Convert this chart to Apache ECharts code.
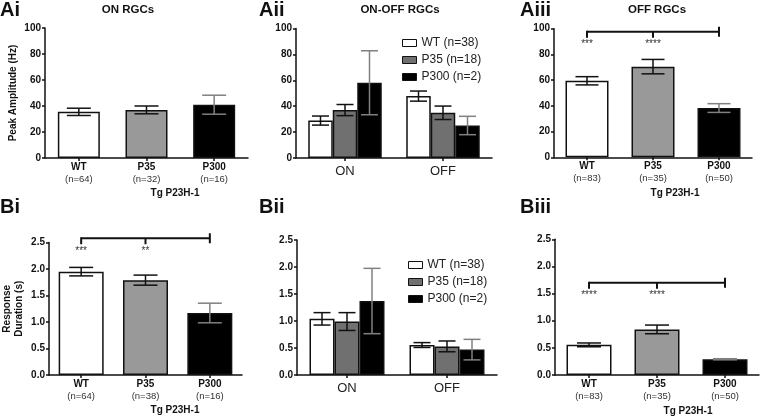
<!DOCTYPE html>
<html><head><meta charset="utf-8">
<script src="https://cdn.jsdelivr.net/npm/echarts@6/dist/echarts.min.js"></script>
<style>html,body{margin:0;padding:0;background:#fff}#c{width:760px;height:418px}</style>
</head><body><div id="c"></div>
<script>
// ---------- DATA ----------
const groups = ['WT', 'P35', 'P300'];
const legendNames = ['WT (n=38)', 'P35 (n=18)', 'P300 (n=2)'];
const onOffCats = ['ON', 'OFF'];
const yTicksA = [0, 20, 40, 60, 80, 100];
const yTicksB = [0, 0.5, 1.0, 1.5, 2.0, 2.5];

// Ai: ON RGCs, peak amplitude (Hz)
const aiN = ['(n=64)', '(n=32)', '(n=16)'];
const aiMean = [35.5, 37.0, 41.0];
const aiSem = [2.8, 3.0, 7.3];

// Aii: ON-OFF RGCs, peak amplitude (Hz), [ON, OFF]
const aiiWT = [28.9, 47.8];
const aiiWTSem = [3.5, 3.9];
const aiiP35 = [37.0, 34.9];
const aiiP35Sem = [4.3, 5.2];
const aiiP300 = [58.1, 25.1];
const aiiP300Sem = [24.7, 7.1];

// Aiii: OFF RGCs, peak amplitude (Hz)
const aiiiN = ['(n=83)', '(n=35)', '(n=50)'];
const aiiiMean = [59.5, 70.5, 38.3];
const aiiiSem = [3.2, 5.6, 3.4];
const aiiiBracketY = 97.7;
const aiiiStars = ['***', '****'];

// Bi: ON RGCs, response duration (s)
const biN = ['(n=64)', '(n=38)', '(n=16)'];
const biMean = [1.95, 1.79, 1.17];
const biSem = [0.08, 0.095, 0.185];
const biBracketY = 2.58;
const biStars = ['***', '**'];

// Bii: ON-OFF RGCs, response duration (s), [ON, OFF]
const biiWT = [1.04, 0.555];
const biiWTSem = [0.115, 0.045];
const biiP35 = [0.99, 0.53];
const biiP35Sem = [0.165, 0.1];
const biiP300 = [1.37, 0.47];
const biiP300Sem = [0.605, 0.19];

// Biii: OFF RGCs, response duration (s)
const biiiN = ['(n=83)', '(n=35)', '(n=50)'];
const biiiMean = [0.555, 0.84, 0.29];
const biiiSem = [0.035, 0.08, 0.01];
const biiiBracketY = 1.70;
const biiiStars = ['****', '****'];

// ---------- STYLE ----------
const FONT = 'Liberation Sans, Arial, Helvetica, sans-serif';
const INK = '#111';
const singleFills = ['#ffffff', '#999999', '#000000'];
const groupFills = ['#ffffff', '#707070', '#000000'];
const errColors = ['#111', '#111', '#808080'];

const grids = [
  {left: 45, top: 28, width: 203, height: 130},     // Ai
  {left: 296, top: 28.5, width: 196, height: 129.5},// Aii
  {left: 554, top: 28.7, width: 198, height: 128.6},// Aiii
  {left: 47, top: 242.5, width: 195, height: 132.5},// Bi
  {left: 297, top: 240, width: 200, height: 135},   // Bii
  {left: 555, top: 239.3, width: 204, height: 135.7}// Biii
];

const axisLineStyle = {color: INK, width: 1.5};

function yAxis(idx, ticks, name, isB) {
  return {
    type: 'value', gridIndex: idx,
    min: ticks[0], max: ticks[ticks.length - 1], interval: ticks[1] - ticks[0],
    axisLine: {show: true, lineStyle: axisLineStyle},
    axisTick: {show: true, length: 3, lineStyle: axisLineStyle},
    splitLine: {show: false},
    axisLabel: {
      fontFamily: FONT, fontWeight: 'bold', fontSize: 10, color: INK, margin: 4,
      formatter: v => isB ? v.toFixed(1) : String(v)
    },
    name: name || '', nameLocation: 'middle', nameRotate: 90, nameGap: isB ? 24 : 26,
    nameTextStyle: {fontFamily: FONT, fontWeight: 'bold', fontSize: 10, color: INK, lineHeight: 12}
  };
}

function xAxisSingle(idx, nLabels) {
  return {
    type: 'category', gridIndex: idx, data: groups,
    axisLine: {show: true, lineStyle: axisLineStyle},
    axisTick: {show: true, alignWithLabel: true, length: 3, lineStyle: axisLineStyle},
    axisLabel: {
      margin: 3, interval: 0,
      formatter: (v, i) => '{b|' + v + '}\n{n|' + nLabels[i] + '}',
      rich: {
        b: {fontFamily: FONT, fontWeight: 'bold', fontSize: 10, color: INK, lineHeight: 12},
        n: {fontFamily: FONT, fontSize: 9.5, color: '#333', lineHeight: 13}
      }
    }
  };
}

function xAxisGroup(idx) {
  return {
    type: 'category', gridIndex: idx, data: onOffCats,
    axisLine: {show: true, lineStyle: axisLineStyle},
    axisTick: {show: true, alignWithLabel: true, length: 3, lineStyle: axisLineStyle},
    axisLabel: {margin: 7, fontFamily: FONT, fontSize: 13, color: '#222'}
  };
}

function errRender(offset, capW, colorFn) {
  return function (params, api) {
    const k = api.value(0);
    const lo = api.coord([k, api.value(1)]);
    const hi = api.coord([k, api.value(2)]);
    const x = lo[0] + offset;
    const col = colorFn(params.dataIndex);
    const st = {stroke: col, lineWidth: 1.5, fill: null};
    return {
      type: 'group',
      children: [
        {type: 'line', shape: {x1: x, y1: lo[1], x2: x, y2: hi[1]}, style: st},
        {type: 'line', shape: {x1: x - capW / 2, y1: lo[1], x2: x + capW / 2, y2: lo[1]}, style: st},
        {type: 'line', shape: {x1: x - capW / 2, y1: hi[1], x2: x + capW / 2, y2: hi[1]}, style: st}
      ]
    };
  };
}

function bracketRender(stars) {
  return function (params, api) {
    const y = api.value(3);
    const a = api.coord([api.value(0), y]);
    const b = api.coord([api.value(1), y]);
    const c = api.coord([api.value(2), y]);
    const st = {stroke: INK, lineWidth: 2, fill: null};
    const tx = (x, s) => ({type: 'text', x: x, y: a[1] + 8,
      style: {text: s, align: 'center', verticalAlign: 'top', fontFamily: FONT, fontSize: 10, fill: '#333'}});
    return {
      type: 'group',
      children: [
        {type: 'line', shape: {x1: a[0], y1: a[1], x2: c[0], y2: c[1]}, style: st},
        {type: 'line', shape: {x1: a[0], y1: a[1] - 1, x2: a[0], y2: a[1] + 6}, style: st},
        {type: 'line', shape: {x1: b[0], y1: b[1], x2: b[0], y2: b[1] + 6}, style: st},
        {type: 'line', shape: {x1: c[0], y1: c[1] - 5, x2: c[0], y2: c[1] + 5}, style: st},
        tx(a[0], stars[0]), tx(b[0], stars[1])
      ]
    };
  };
}

const series = [];

function addSingle(idx, mean, sem, barW, capW, bracket, stars) {
  series.push({
    type: 'bar', xAxisIndex: idx, yAxisIndex: idx, barWidth: barW, silent: true,
    data: mean.map((v, k) => ({value: v, itemStyle: {color: singleFills[k]}})),
    itemStyle: {borderColor: INK, borderWidth: 1.5}
  });
  series.push({
    type: 'custom', xAxisIndex: idx, yAxisIndex: idx, silent: true, z: 5,
    encode: {x: 0, y: [1, 2]},
    data: mean.map((m, k) => [k, m - sem[k], m + sem[k]]),
    renderItem: errRender(0, capW, i => errColors[i])
  });
  if (bracket !== undefined) {
    series.push({
      type: 'custom', xAxisIndex: idx, yAxisIndex: idx, silent: true, z: 6, clip: false,
      encode: {x: 0, y: 3},
      data: [[0, 1, 2, bracket]],
      renderItem: bracketRender(stars)
    });
  }
}

function addGroup(idx, means, sems, barW, capW) {
  means.forEach((arr, g) => {
    series.push({
      type: 'bar', name: legendNames[g], xAxisIndex: idx, yAxisIndex: idx,
      barWidth: barW, barGap: '0%', silent: true,
      data: arr,
      itemStyle: {color: groupFills[g], borderColor: INK, borderWidth: 1.5}
    });
  });
  means.forEach((arr, g) => {
    series.push({
      type: 'custom', xAxisIndex: idx, yAxisIndex: idx, silent: true, z: 5,
      encode: {x: 0, y: [1, 2]},
      data: arr.map((m, k) => [k, m - sems[g][k], m + sems[g][k]]),
      renderItem: errRender((g - 1) * barW, capW, () => errColors[g])
    });
  });
}

addSingle(0, aiMean, aiSem, 42, 24);
addGroup(1, [aiiWT, aiiP35, aiiP300], [aiiWTSem, aiiP35Sem, aiiP300Sem], 24.5, 17);
addSingle(2, aiiiMean, aiiiSem, 43, 23, aiiiBracketY, aiiiStars);
addSingle(3, biMean, biSem, 45, 24, biBracketY, biStars);
addGroup(4, [biiWT, biiP35, biiP300], [biiWTSem, biiP35Sem, biiP300Sem], 25, 17);
addSingle(5, biiiMean, biiiSem, 45, 24, biiiBracketY, biiiStars);

function legend(left, top, gap) {
  return {
    orient: 'vertical', left: left, top: top, itemWidth: 14, itemHeight: 7, itemGap: gap,
    icon: 'rect', selectedMode: false, padding: 0,
    textStyle: {fontFamily: FONT, fontSize: 12, color: '#222', lineHeight: 14},
    data: legendNames.map((n, g) => ({name: n, itemStyle: {color: groupFills[g], borderColor: INK, borderWidth: 1}}))
  };
}

function txt(x, y, s, size, bold, align) {
  return {type: 'text', x: x, y: y, silent: true,
    style: {text: s, fontFamily: FONT, fontSize: size, fontWeight: bold ? 'bold' : 'normal',
      fill: INK, align: align || 'center', verticalAlign: 'middle'}};
}

const option = {
  animation: false,
  backgroundColor: '#fff',
  grid: grids,
  xAxis: [xAxisSingle(0, aiN), xAxisGroup(1), xAxisSingle(2, aiiiN), xAxisSingle(3, biN), xAxisGroup(4), xAxisSingle(5, biiiN)],
  yAxis: [
    yAxis(0, yTicksA, 'Peak Amplitude (Hz)', false),
    yAxis(1, yTicksA, '', false),
    yAxis(2, yTicksA, '', false),
    yAxis(3, yTicksB, 'Response\nDuration (s)', true),
    yAxis(4, yTicksB, '', true),
    yAxis(5, yTicksB, '', true)
  ],
  legend: [legend(402, 36, 3), legend(408, 258, 3)],
  series: series,
  graphic: [
    txt(0, 10, 'Ai', 20, true, 'left'),
    txt(259, 10, 'Aii', 20, true, 'left'),
    txt(520, 10, 'Aiii', 20, true, 'left'),
    txt(0, 207, 'Bi', 20, true, 'left'),
    txt(259, 207, 'Bii', 20, true, 'left'),
    txt(520, 207, 'Biii', 20, true, 'left'),
    txt(128, 10, 'ON RGCs', 11.5, true),
    txt(400, 10, 'ON-OFF RGCs', 11.5, true),
    txt(657, 10, 'OFF RGCs', 11.5, true),
    txt(175, 193, 'Tg P23H-1', 10, true),
    txt(675, 193, 'Tg P23H-1', 10, true),
    txt(175, 410, 'Tg P23H-1', 10, true),
    txt(688, 411, 'Tg P23H-1', 10, true)
  ]
};

echarts.init(document.getElementById('c'), null, {renderer: 'canvas'}).setOption(option);
</script>
</body></html>
